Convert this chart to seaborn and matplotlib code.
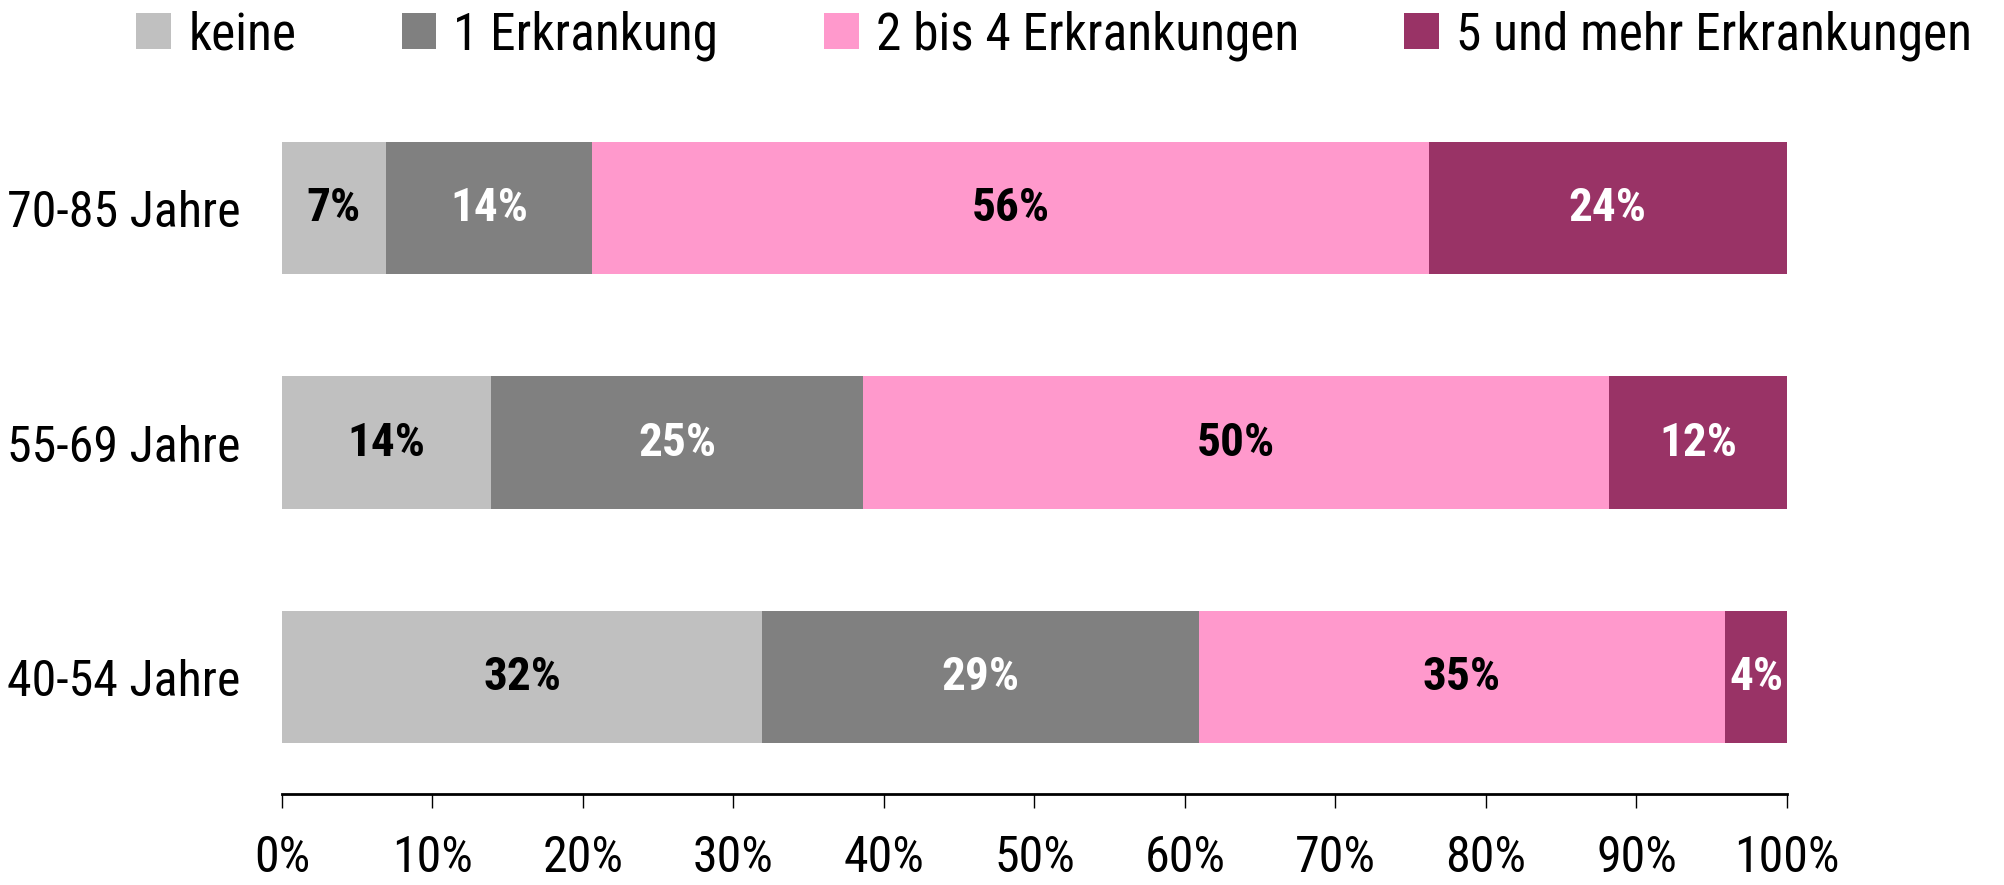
import numpy as np
import pandas as pd
import matplotlib
matplotlib.use('Agg')
import matplotlib.pyplot as plt
from matplotlib import font_manager
from matplotlib.patches import Patch
import seaborn as sns

sns.set_theme(style='white')

# pick a narrow family that also has a bold face
weights = {}
for f in font_manager.fontManager.ttflist:
    w = f.weight if isinstance(f.weight, int) else 400
    weights.setdefault(f.name, set()).add(w)
family = 'Archivo Narrow'
for cand in ['Roboto Condensed', 'PT Sans Narrow', 'Archivo Narrow', 'Sofia Sans Condensed']:
    if cand in weights and any(w >= 700 for w in weights[cand]):
        family = cand
        break
plt.rcParams['font.family'] = [family, 'DejaVu Sans']

ages = ['70-85 Jahre', '55-69 Jahre', '40-54 Jahre']
groups = ['keine', '1 Erkrankung', '2 bis 4 Erkrankungen', '5 und mehr Erkrankungen']
keine = [6.9, 13.9, 31.9]
eine = [13.7, 24.7, 29.0]
zwei_vier = [55.6, 49.6, 35.0]
fuenf_plus = [23.8, 11.8, 4.1]
colors = ['#C0C0C0', '#808080', '#FF99CC', '#993366']
label_colors = ['black', 'white', 'black', 'white']

df = pd.DataFrame({'age': ages, groups[0]: keine, groups[1]: eine,
                   groups[2]: zwei_vier, groups[3]: fuenf_plus})
cum = df[groups].cumsum(axis=1)

fig = plt.figure(figsize=(20.04, 8.85), dpi=100)
ax = fig.add_axes([0.1407, 0.1028, 0.7510, 0.7944])

# stacked bars, longest cumulative drawn first
for g, c in reversed(list(zip(groups, colors))):
    sns.barplot(x=cum[g], y=df['age'], color=c, orient='h', width=0.565,
                saturation=1, linewidth=0, ax=ax, order=ages)

for i, g in enumerate(groups):
    start = cum[g] - df[g]
    for j in range(len(ages)):
        v = df[g].iloc[j]
        ax.text(start.iloc[j] + v / 2, j, f'{v:.0f}%', ha='center', va='center',
                fontsize=34, fontweight='bold', color=label_colors[i])

ax.set_xlim(0, 100)
ax.set_ylim(2.5, -0.5)
ax.set_xticks(np.arange(0, 101, 10))
ax.set_xticklabels([f'{t}%' for t in range(0, 101, 10)])
ax.set_xlabel('')
ax.set_ylabel('')
for s in ['top', 'right', 'left']:
    ax.spines[s].set_visible(False)
ax.spines['bottom'].set_linewidth(2)
ax.spines['bottom'].set_color('black')
ax.tick_params(axis='x', direction='out', length=10, width=1, pad=19,
               labelsize=36, colors='black', bottom=True)
ax.tick_params(axis='y', length=0, pad=30, labelsize=36, colors='black')

handles = [Patch(facecolor=c, edgecolor='none') for c in colors]
fig.legend(handles, groups, loc='center left', bbox_to_anchor=(0.068, 0.960),
           ncol=4, frameon=False, fontsize=37, handlelength=0.68,
           handleheight=0.68, handletextpad=0.33, columnspacing=2.05,
           borderpad=0, borderaxespad=0, labelcolor='black')

fig.savefig('out.png', dpi=100)
